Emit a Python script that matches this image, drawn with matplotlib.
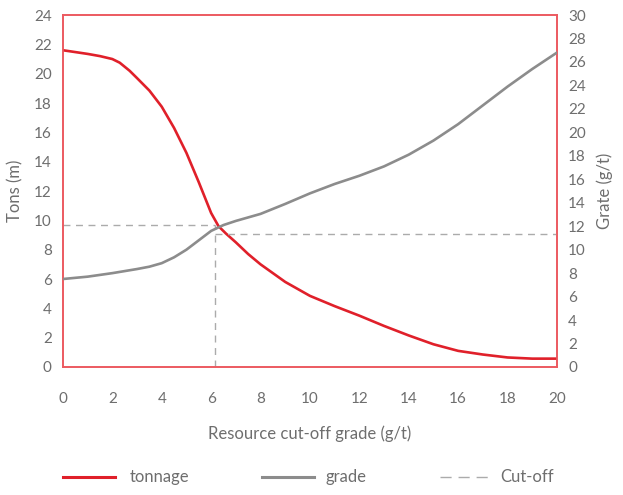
import numpy as np
import matplotlib.pyplot as plt
from matplotlib.lines import Line2D

plt.rcParams['font.family'] = ['Lato', 'DejaVu Sans']

# data
cutoff_grade = [0, 1, 1.5, 2, 2.3, 2.7, 3, 3.5, 4, 4.5, 5, 5.5, 6, 6.3, 6.6, 7, 7.5, 8, 9, 10,
                11, 12, 13, 14, 15, 16, 17, 18, 19, 20]
tonnage = [21.6, 21.35, 21.2, 21.0, 20.75, 20.2, 19.7, 18.85, 17.75, 16.3, 14.6, 12.6, 10.5, 9.6, 9.1,
           8.5, 7.7, 7.0, 5.8, 4.85, 4.15, 3.5, 2.8, 2.15, 1.55, 1.1, 0.85, 0.65, 0.57, 0.57]

grade_x = [0, 1, 2, 3, 3.5, 4, 4.5, 5, 5.5, 6, 6.5, 7, 7.5, 8, 9, 10, 11, 12, 13, 14, 15, 16,
           17, 18, 19, 20]
grade = [7.5, 7.7, 8.0, 8.35, 8.55, 8.85, 9.35, 10.0, 10.8, 11.6, 12.1, 12.45, 12.75, 13.05, 13.9,
         14.8, 15.6, 16.3, 17.1, 18.1, 19.3, 20.7, 22.3, 23.9, 25.4, 26.8]

cut_x = 6.15
cut_tons = 9.7
cut_grade = 11.3

x_ticks = list(range(0, 21, 2))
left_ticks = list(range(0, 25, 2))
right_ticks = list(range(0, 31, 2))

RED = '#e0202a'
SPINE = '#ec5a60'
GREY = '#8c8c8c'
DASH = '#ababab'
TXT = '#6e6e6e'

fig = plt.figure(figsize=(6.23, 4.95), dpi=100)
ax = fig.add_axes([0.101, 0.2586, 0.793, 0.711])
ax2 = ax.twinx()

ax.plot(cutoff_grade, tonnage, color=RED, lw=1.9, zorder=5, solid_joinstyle='round')
ax2.plot(grade_x, grade, color=GREY, lw=1.9, zorder=4, solid_joinstyle='round')

# cut-off guides
ax.plot([0, cut_x], [cut_tons, cut_tons], color=DASH, lw=1, ls=(0, (5, 4)))
ax.plot([cut_x, cut_x], [0, cut_tons], color=DASH, lw=1, ls=(0, (5, 4)))
ax2.plot([cut_x, 20], [cut_grade, cut_grade], color=DASH, lw=1, ls=(0, (5, 4)))

ax.set_xlim(0, 20)
ax.set_ylim(0, 24)
ax2.set_ylim(0, 30)
ax.set_xticks(x_ticks)
ax.set_yticks(left_ticks)
ax2.set_yticks(right_ticks)

for a in (ax, ax2):
    for s in a.spines.values():
        s.set_color(SPINE)
        s.set_linewidth(1.2)
    a.tick_params(length=0, labelsize=11, labelcolor=TXT)
ax.tick_params(axis='x', pad=18)
ax.tick_params(axis='y', pad=8)
ax2.tick_params(axis='y', pad=8)

ax.set_xlabel('Resource cut-off grade (g/t)', fontsize=12, color=TXT, labelpad=14)
ax.set_ylabel('Tons (m)', fontsize=12, color=TXT, labelpad=8)
ax2.set_ylabel('Grate (g/t)', fontsize=12, color=TXT, labelpad=8)

# legend drawn by hand in figure coordinates
leg_y = 0.036
legend_items = [('tonnage', RED, 2.2, '-', 63, 130),
                ('grade', GREY, 2.2, '-', 262, 325),
                ('Cut-off', DASH, 1, (0, (8, 5)), 440, 500)]
for label, col, lw, ls, x0, xt in legend_items:
    fig.add_artist(Line2D([x0 / 623, (x0 + 52) / 623], [leg_y, leg_y], color=col, lw=lw, ls=ls))
    fig.text(xt / 623, leg_y, label, fontsize=12, color=TXT, va='center', ha='left')

fig.savefig('out.png', dpi=100)
